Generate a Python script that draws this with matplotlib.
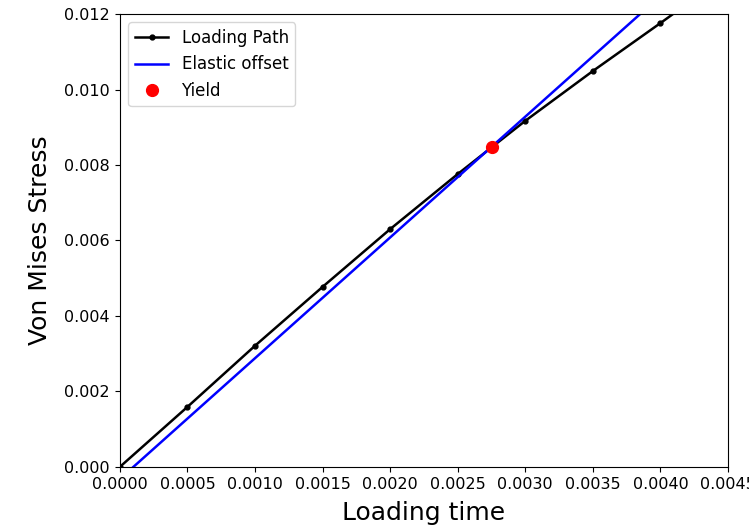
import numpy as np
import matplotlib.pyplot as plt

# loading path
load_time = [0.0, 0.0005, 0.0010, 0.0015, 0.0020, 0.0025, 0.0030, 0.0035, 0.0040, 0.0045]
load_stress = [0.0, 0.00159, 0.00321, 0.00477, 0.00630, 0.00776, 0.00917, 0.01049, 0.01176, 0.01305]

# elastic offset line
offset_time = [0.0001, 0.0045]
offset_stress = [0.0, 0.01408]

# yield point
yield_time = [0.00275]
yield_stress = [0.00848]

fig = plt.figure(figsize=(7.49, 5.27), dpi=100)
ax = fig.add_axes([0.160, 0.114, 0.812, 0.8594])

ax.plot(load_time, load_stress, 'k.-', markersize=7, linewidth=1.8, label="Loading Path")
ax.plot(offset_time, offset_stress, 'b-', linewidth=1.8, label="Elastic offset")
ax.plot(yield_time, yield_stress, 'ro', markersize=8.5, label="Yield")

ax.set_xlim(0, 0.0045)
ax.set_ylim(0, 0.012)
ax.set_xticks(np.arange(0, 0.00451, 0.0005))
ax.set_xticklabels(["%.4f" % v for v in np.arange(0, 0.00451, 0.0005)])
ax.set_yticks(np.arange(0, 0.01201, 0.002))
ax.set_yticklabels(["%.3f" % v for v in np.arange(0, 0.01201, 0.002)])
ax.tick_params(labelsize=11.5)
ax.set_xlabel("Loading time", fontsize=18, labelpad=7)
ax.set_ylabel("Von Mises Stress", fontsize=18, labelpad=9)
ax.legend(fontsize=12, loc='upper left')

plt.savefig('out.png', dpi=100)
